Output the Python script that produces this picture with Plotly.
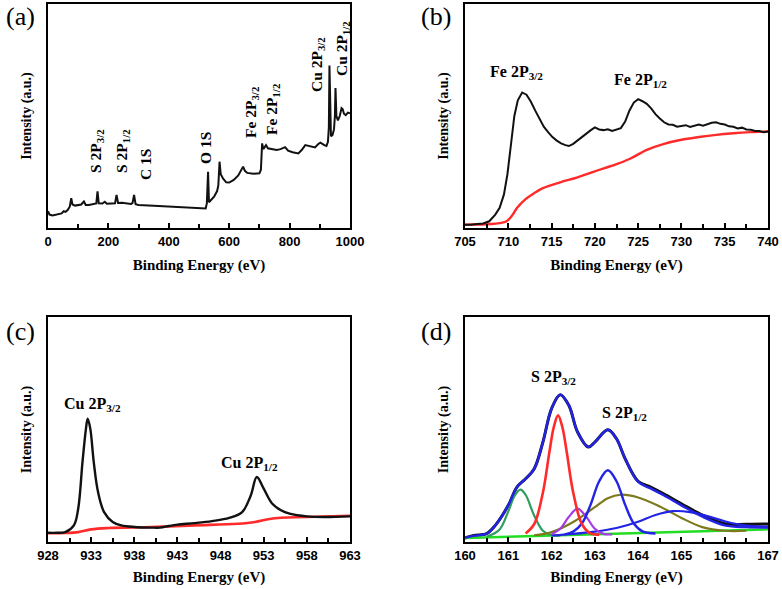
import plotly.graph_objects as go
from plotly.subplots import make_subplots

W, H = 782, 589

# ---------------- data ----------------
# (a) survey spectrum
survey_x = [0, 5, 15, 30, 45, 52, 58, 65, 72, 77, 81, 90, 100, 110, 119, 125, 135, 150, 160, 164, 168,
            180, 188, 195, 210, 222, 227, 232, 245, 260, 275, 280, 285, 290, 300, 350, 400, 450, 500,
            522, 526, 530, 533, 540, 550, 560, 564, 568, 572, 580, 590, 600, 615, 630, 640, 646, 652,
            660, 680, 700, 705, 709, 713, 718, 722, 728, 740, 757, 770, 785, 795, 810, 829, 840, 852,
            865, 884, 895, 902, 915, 922, 927, 930, 932, 934, 937, 942, 947, 950, 952, 955, 960, 966,
            972, 976, 980, 986, 993, 1000]
survey_y = [7.5, 6.0, 5.6, 5.9, 6.5, 7.5, 7.2, 8.0, 9.5, 13.3, 10.5, 10.0, 10.3, 10.5, 11.8, 10.3, 10.3,
            10.6, 11.0, 16.4, 11.0, 10.9, 11.7, 10.8, 10.8, 11.0, 14.8, 11.2, 11.3, 11.0, 10.7, 11.2,
            14.8, 10.6, 10.3, 9.9, 9.5, 9.0, 8.8, 8.7, 11.0, 25.1, 11.5, 12.5, 14.0, 16.5, 19.0, 29.6,
            24.0, 22.0, 20.4, 20.3, 21.5, 23.5, 26.0, 27.4, 25.5, 24.6, 24.2, 24.4, 26.0, 37.8, 35.2,
            36.0, 37.0, 35.6, 35.3, 34.8, 35.2, 36.1, 34.5, 33.8, 33.3, 34.8, 37.0, 36.5, 36.0, 37.5,
            38.1, 37.0, 36.6, 38.5, 45.0, 72.5, 48.0, 41.0, 41.5, 44.0, 50.0, 62.5, 50.0, 48.0, 50.0,
            53.5, 53.0, 51.0, 50.4, 51.5, 51.2]

# (b) Fe 2p
fe_x = [705.0, 705.7, 706.4, 707.1, 707.8, 708.5, 709.0, 709.5, 709.9, 710.3, 710.7, 711.1, 711.6, 712.1,
        712.6, 713.1, 713.6, 714.1, 714.6, 715.1, 715.6, 716.1, 716.6, 717.0, 717.5, 718.0, 718.5, 719.0,
        719.5, 720.0, 720.5, 721.0, 721.5, 722.0, 722.5, 723.0, 723.5, 724.0, 724.5, 725.0, 725.5, 726.0,
        726.5, 727.0, 727.5, 728.0, 728.5, 729.0, 729.5, 730.0, 730.5, 731.0, 731.5, 732.0, 732.5, 733.0,
        733.5, 734.0, 734.5, 735.0, 735.5, 736.0, 736.5, 737.0, 737.5, 738.0, 738.5, 739.0, 739.5, 740.0]
fe_y = [1.5, 1.4, 1.8, 2.0, 3.0, 6.0, 9.0, 15.0, 24.0, 38.0, 50.0, 57.0, 60.5, 59.5, 56.5, 52.5, 48.5,
        45.2, 42.8, 40.6, 39.0, 37.8, 37.0, 36.6, 37.6, 39.2, 40.4, 42.2, 43.6, 44.9, 44.0, 43.7, 44.1,
        43.3, 43.8, 44.6, 47.5, 52.5, 56.0, 57.5, 56.6, 55.4, 53.4, 50.8, 48.9, 47.2, 46.2, 46.1, 45.2,
        45.4, 45.9, 45.1, 45.8, 46.2, 45.7, 46.5, 47.0, 47.2, 46.5, 46.2, 45.4, 45.2, 44.4, 44.8, 44.0,
        43.9, 43.3, 43.3, 42.8, 43.1]
fe_bg_x = [705, 708, 709, 709.8, 710.5, 711, 712, 713, 714, 716, 718, 720, 722, 724, 726, 728, 730, 732,
           734, 736, 738, 740]
fe_bg_y = [1.5, 1.8, 2.2, 3.0, 5.9, 8.9, 12.9, 15.6, 17.8, 20.4, 22.6, 25.3, 27.8, 30.8, 34.9, 37.6,
           39.4, 40.6, 41.6, 42.3, 42.8, 43.1]

# (c) Cu 2p
cu_x = [928, 929, 930, 931, 931.5, 932, 932.4, 932.6, 932.9, 933.3, 933.8, 934.5, 935.5, 936.5, 938, 940,
        941, 942, 943, 945, 947, 949, 950.5, 951.5, 952.2, 953, 954, 955, 956, 958, 960, 963]
cu_y = [4.1, 4.1, 4.4, 7.4, 14.8, 35.6, 50.4, 54.8, 50.4, 35.6, 22.2, 13.3, 8.9, 7.4, 6.7, 6.4, 6.4, 7.1,
        7.7, 8.4, 9.3, 10.7, 13.3, 20.7, 28.9, 23.7, 17.0, 14.1, 12.6, 11.4, 11.1, 11.4]
cu_bg_x = [928, 930, 931.5, 933, 935, 940, 945, 950, 952, 953.5, 955, 958, 963]
cu_bg_y = [3.9, 4.0, 4.4, 5.6, 6.2, 6.7, 7.4, 8.1, 8.9, 10.1, 10.8, 11.1, 11.7]

# (d) S 2p
s_x = [160.0, 160.2, 160.5, 160.7, 161.0, 161.2, 161.4, 161.6, 161.8, 162.0, 162.2, 162.4, 162.6, 162.85,
       163.0, 163.3, 163.5, 163.7, 164.0, 164.3, 164.6, 165.0, 165.5, 166.0, 166.5, 167.0]
s_data = [1.8, 2.9, 3.7, 7.4, 16.3, 24.4, 28.1, 32.6, 44.4, 59.3, 65.5, 60.7, 48.9, 42.2, 44.4, 49.9,
          45.9, 37.0, 27.0, 24.3, 21.3, 17.0, 11.8, 8.1, 7.9, 8.0]
s_env = [1.8, 2.7, 3.7, 7.4, 16.3, 24.4, 28.1, 32.6, 44.4, 59.3, 65.5, 60.7, 48.9, 42.2, 44.4, 49.9,
         45.9, 37.0, 26.7, 23.7, 20.7, 16.3, 11.1, 7.4, 6.6, 6.4]
s_base_x = [160.0, 167.0]
s_base_y = [1.8, 5.6]
c1_x = [160.5, 160.8, 161.0, 161.15, 161.28, 161.4, 161.6, 161.8, 162.0, 162.2]
c1_y = [2.3, 5.6, 13.6, 20.7, 23.3, 21.0, 11.7, 5.0, 3.0, 2.9]
c2_x = [161.4, 161.6, 161.8, 161.95, 162.05, 162.15, 162.25, 162.35, 162.5, 162.7, 162.9, 163.1]
c2_y = [3.8, 8.0, 22.0, 40.0, 51.0, 56.3, 51.0, 40.0, 22.0, 8.0, 3.8, 3.3]
c3_x = [162.0, 162.2, 162.4, 162.6, 162.8, 163.0, 163.2, 163.4]
c3_y = [3.4, 5.9, 11.2, 14.8, 11.2, 5.9, 3.6, 3.4]
c4_x = [162.3, 162.5, 162.7, 162.9, 163.1, 163.3, 163.5, 163.7, 163.9, 164.1, 164.4]
c4_y = [3.4, 4.6, 8.2, 16.5, 27.0, 31.9, 27.0, 16.5, 8.2, 4.7, 3.8]
c5_x = [161.6, 162.0, 162.5, 163.0, 163.3, 163.6, 164.0, 164.5, 165.0, 165.5, 166.0, 166.5]
c5_y = [3.0, 4.4, 8.9, 15.5, 19.5, 21.0, 19.8, 15.8, 10.7, 6.5, 5.0, 5.0]
c6_x = [162.0, 162.5, 163.0, 163.5, 164.0, 164.4, 164.8, 165.2, 165.6, 166.0, 166.4, 167.0]
c6_y = [2.9, 3.6, 4.6, 6.2, 9.0, 12.0, 13.7, 13.3, 11.5, 9.2, 7.5, 6.8]

# ---------------- figure ----------------
fig = make_subplots(rows=2, cols=2)

BLACK, RED, BLUE = "#111111", "#ff2a2a", "#2323e6"


def add(x, y, row, col, color, width=2.2, shape="linear"):
    fig.add_trace(go.Scatter(x=x, y=y, mode="lines", line=dict(color=color, width=width, shape=shape),
                             showlegend=False, hoverinfo="skip"), row=row, col=col)


add(survey_x, survey_y, 1, 1, BLACK, 2)
add(fe_bg_x, fe_bg_y, 1, 2, RED, 2.4, "spline")
add(fe_x, fe_y, 1, 2, BLACK, 2)
add(cu_bg_x, cu_bg_y, 2, 1, RED, 2.6, "spline")
add(cu_x, cu_y, 2, 1, BLACK, 2.4, "spline")
add(s_x, s_data, 2, 2, BLACK, 3, "spline")
add(s_base_x, s_base_y, 2, 2, "#22dd22", 2.4)
add(c1_x, c1_y, 2, 2, "#2e9e60", 2.2, "spline")
add(c5_x, c5_y, 2, 2, "#7d7a1e", 2.2, "spline")
add(c6_x, c6_y, 2, 2, BLUE, 2.2, "spline")
add(c3_x, c3_y, 2, 2, "#a43be6", 2.2, "spline")
add(c4_x, c4_y, 2, 2, BLUE, 2.4, "spline")
add(c2_x, c2_y, 2, 2, RED, 2.6, "spline")
add(s_x, s_env, 2, 2, BLUE, 2.4, "spline")

SERIF = "Liberation Serif, Times New Roman, serif"
tickfont = dict(family="Liberation Sans, Arial", size=13, color="black", weight="bold")
titlefont = dict(family=SERIF, size=15, color="black", weight="bold")

# plot boxes in page pixels
L1, R1, L2, R2 = 48, 350, 465, 768
T1, B1, T2, B2 = 4, 228, 317, 542


def fx(px):
    return px / W


def fy(py):
    return 1 - py / H


xcfg = [
    (1, 1, [0, 1000], 200, 100, 0, 12),
    (1, 2, [705, 740], 5, 2.5, 705, 12),
    (2, 1, [928, 963], 5, 2.5, 928, 10),
    (2, 2, [160, 167], 1, 0.5, 160, 10),
]
for row, col, rng, dt, mdt, t0, so in xcfg:
    left, right = (L1, R1) if col == 1 else (L2, R2)
    top, bot = (T1, B1) if row == 1 else (T2, B2)
    fig.update_xaxes(row=row, col=col, range=rng, domain=[fx(left), fx(right)], tick0=t0, dtick=dt,
                     automargin=False,
                     showline=True, linecolor="black", linewidth=2, mirror=True, ticks="inside",
                     ticklen=5, tickwidth=1.5, tickcolor="black", showgrid=False, zeroline=False,
                     minor=dict(ticks="inside", ticklen=4, tickwidth=1.5, tickcolor="black", dtick=mdt,
                                tick0=t0, showgrid=False),
                     tickfont=tickfont, ticklabelstandoff=0,
                     title=dict(text="Binding Energy (eV)", font=titlefont, standoff=so))
    fig.update_yaxes(row=row, col=col, range=[0, 100], domain=[fy(bot), fy(top)], automargin=False,
                     showline=True, linecolor="black", linewidth=2, mirror=True, ticks="",
                     showticklabels=False, showgrid=False, zeroline=False,
                     title=dict(text="Intensity (a.u.)", font=dict(titlefont, size=14), standoff=11))

ann = []


def label(text, px, py, size=16, angle=0):
    ann.append(dict(text=text, x=fx(px), y=fy(py), xref="paper", yref="paper", showarrow=False,
                    textangle=angle, xanchor="center", yanchor="middle",
                    font=dict(family=SERIF, size=size, color="black", weight="bold")))


def panel(text, px, py):
    ann.append(dict(text=text, x=fx(px), y=fy(py), xref="paper", yref="paper", showarrow=False,
                    xanchor="center", yanchor="middle",
                    font=dict(family=SERIF, size=26, color="black")))


panel("(a)", 20, 16)
panel("(b)", 436, 16)
panel("(c)", 20, 331)
panel("(d)", 436, 331)

# (a) rotated peak labels
label("S 2P<sub>3/2</sub>", 96, 151, 15.5, -90)
label("S 2P<sub>1/2</sub>", 122, 151, 15.5, -90)
label("C 1S", 145, 165, 15.5, -90)
label("O 1S", 206, 148, 15.5, -90)
label("Fe 2P<sub>3/2</sub>", 251, 112, 15.5, -90)
label("Fe 2P<sub>1/2</sub>", 273, 110, 15.5, -90)
label("Cu 2P<sub>3/2</sub>", 317, 65, 15.5, -90)
label("Cu 2P<sub>1/2</sub>", 342, 49, 15.5, -90)
# (b)
label("Fe 2P<sub>3/2</sub>", 516, 73)
label("Fe 2P<sub>1/2</sub>", 640, 81)
# (c)
label("Cu 2P<sub>3/2</sub>", 92, 404)
label("Cu 2P<sub>1/2</sub>", 249, 463)
# (d)
label("S 2P<sub>3/2</sub>", 553, 378)
label("S 2P<sub>1/2</sub>", 624, 413)

fig.update_layout(width=W, height=H, margin=dict(l=0, r=0, t=0, b=0, autoexpand=False),
                  paper_bgcolor="white", plot_bgcolor="white", annotations=ann, showlegend=False)

# remove the browser's default 8px body margin so the figure sits at the page origin
fig.write_html("out.html", config={"displayModeBar": False},
               post_script="document.body.style.margin='0';document.body.style.overflow='hidden';")
